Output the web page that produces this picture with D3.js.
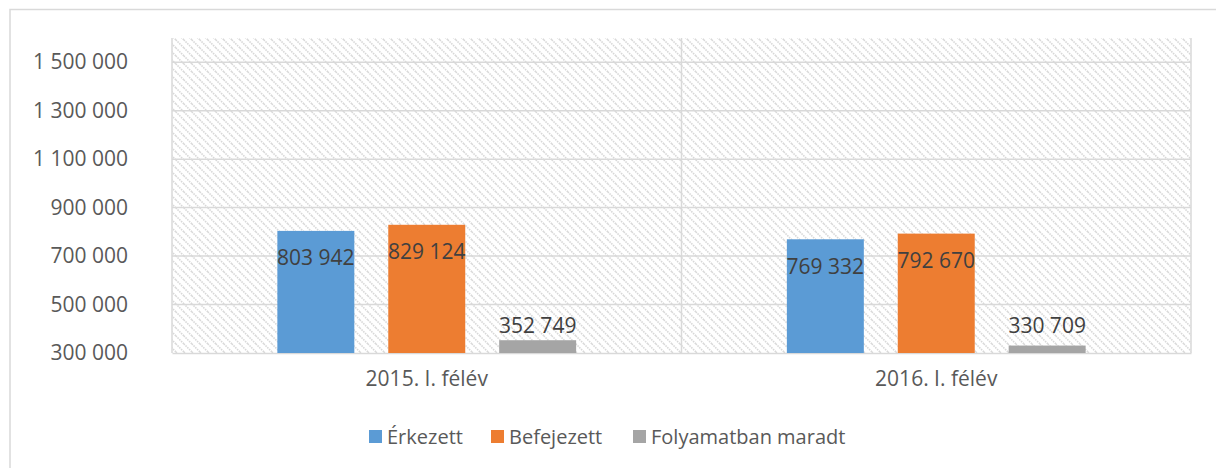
<!DOCTYPE html>
<html><head><meta charset="utf-8">
<script src="https://cdn.jsdelivr.net/npm/d3@7"></script>
<style>
html,body{margin:0;padding:0;background:#fff;}
svg{display:block;font-family:"Open Sans",sans-serif;}
</style></head>
<body>
<svg id="c" width="1216" height="468"></svg>
<script>
const categories = ["2015. I. félév", "2016. I. félév"];
const seriesNames = ["Érkezett", "Befejezett", "Folyamatban maradt"];
const erkezett = [803942, 769332];
const befejezett = [829124, 792670];
const folyamatban = [352749, 330709];
const yTicks = [300000, 500000, 700000, 900000, 1100000, 1300000, 1500000];
const colors = ["#5b9bd5", "#ed7d31", "#a5a5a5"];

const seriesValues = [erkezett, befejezett, folyamatban];
const fmt = v => d3.format(",")(v).replace(/,/g, " ");

const svg = d3.select("#c");
const L = 172, R = 1191, T = 38, B = 353;

// outer frame
svg.append("rect").attr("x",10).attr("y",9.5).attr("width",1240).attr("height",500)
  .attr("fill","none").attr("stroke","#d9d9d9").attr("stroke-width",1.5);

const defs = svg.append("defs");
const pat = defs.append("pattern").attr("id","hatch").attr("patternUnits","userSpaceOnUse")
  .attr("width",8).attr("height",8);
pat.append("rect").attr("width",8).attr("height",8).attr("fill","#fff");
pat.append("path").attr("d","M-2,-2L10,10M-2,6L2,10M6,-2L10,2")
  .attr("stroke","#d8d8d8").attr("stroke-width",1.6).attr("stroke-dasharray","1.5,1");

const y = d3.scaleLinear().domain([300000, 1600000]).range([B, T]);
const x0 = d3.scaleBand().domain(categories).range([L, R]).paddingInner(0).paddingOuter(0);
const x1 = d3.scaleBand().domain(seriesNames).range([0, x0.bandwidth()]).paddingInner(0.306).paddingOuter(0.95);

svg.append("rect").attr("x",L).attr("y",T).attr("width",R-L).attr("height",B-T).attr("fill","url(#hatch)");

// gridlines
svg.append("g").selectAll("line").data(yTicks.filter(t=>t>300000)).join("line")
  .attr("x1",L).attr("x2",R).attr("y1",d=>y(d)).attr("y2",d=>y(d))
  .attr("stroke","#d9d9d9").attr("stroke-width",1.5);

// vertical borders / category separators
const seps = [L, x0(categories[1]), R];
svg.append("g").selectAll("line").data(seps).join("line")
  .attr("x1",d=>d).attr("x2",d=>d).attr("y1",T).attr("y2",B)
  .attr("stroke","#d9d9d9").attr("stroke-width",1.5);

// y axis
const yAxis = d3.axisLeft(y).tickValues(yTicks).tickFormat(fmt).tickSize(0).tickPadding(44);
const ya = svg.append("g").attr("transform",`translate(${L},0)`).call(yAxis);
ya.select(".domain").remove();
ya.selectAll("text").attr("font-size",21).attr("fill","#595959").attr("font-family","Open Sans");

// x axis
const xAxis = d3.axisBottom(x0).tickSize(0).tickPadding(18);
const xa = svg.append("g").attr("transform",`translate(0,${B})`).call(xAxis);
xa.select(".domain").attr("stroke","#d9d9d9").attr("stroke-width",1.5);
xa.selectAll("text").attr("font-size",21).attr("fill","#595959").attr("font-family","Open Sans");

// bars
const rows = [];
categories.forEach((c,i)=>seriesNames.forEach((s,j)=>rows.push({c,s,j,v:seriesValues[j][i]})));
const g = svg.append("g");
g.selectAll("rect").data(rows).join("rect")
  .attr("x",d=>x0(d.c)+x1(d.s)).attr("width",x1.bandwidth())
  .attr("y",d=>y(d.v)).attr("height",d=>B-y(d.v))
  .attr("fill",d=>colors[d.j]);

g.selectAll("text").data(rows).join("text")
  .attr("x",d=>x0(d.c)+x1(d.s)+x1.bandwidth()/2)
  .attr("y",d=>Math.min(y(d.v)+27, B-27))
  .attr("dy","0.35em").attr("text-anchor","middle")
  .attr("font-size",21).attr("fill","#404040")
  .text(d=>fmt(d.v));

// legend
const legX = [369, 491, 633];
const lg = svg.append("g").selectAll("g").data(seriesNames).join("g")
  .attr("transform",(d,i)=>`translate(${legX[i]},430)`);
lg.append("rect").attr("width",13).attr("height",13).attr("fill",(d,i)=>colors[i]);
lg.append("text").attr("x",18).attr("y",7).attr("dy","0.35em").attr("font-size",20)
  .attr("fill","#595959").text(d=>d);
</script>
</body></html>
